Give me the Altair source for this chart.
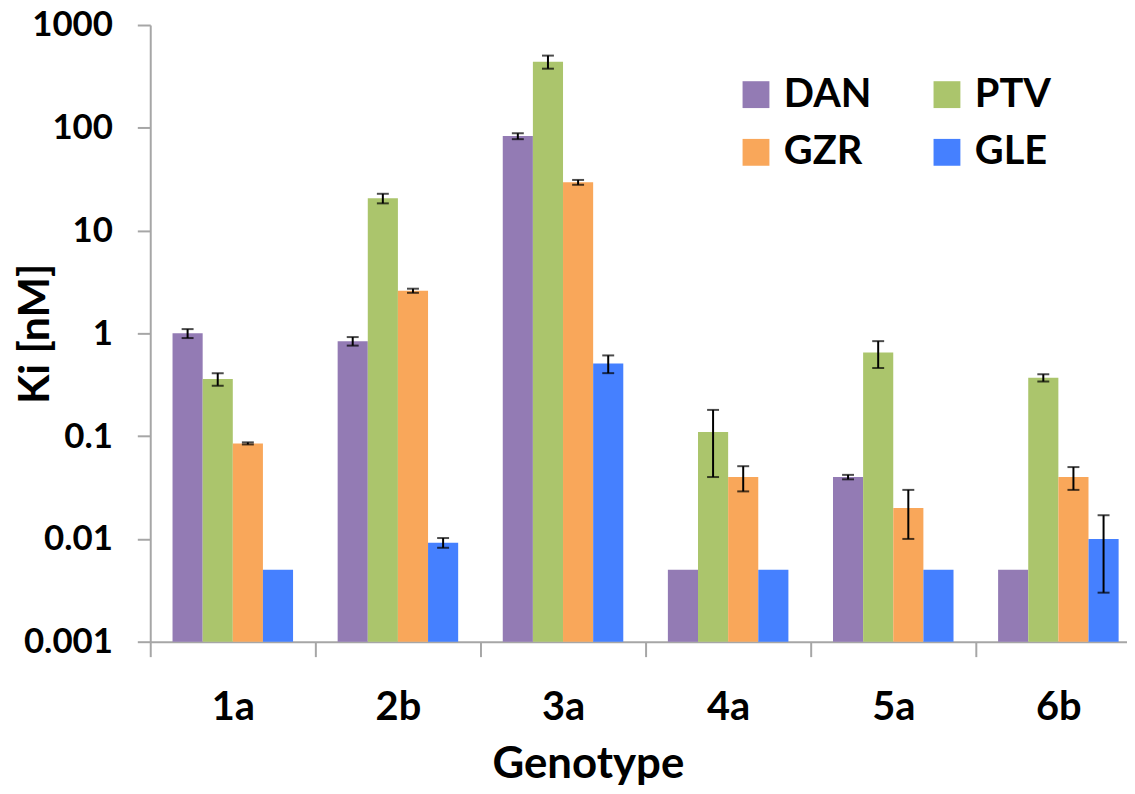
import altair as alt
import pandas as pd

genotypes = ["1a", "2b", "3a", "4a", "5a", "6b"]
drugs = ["DAN", "PTV", "GZR", "GLE"]
legend_order = ["DAN", "GZR", "PTV", "GLE"]
colors = ["#937BB4", "#ABC56C", "#F9A75A", "#4580FF"]

dan = [1.0, 0.84, 83, 0.005, 0.04, 0.005]
ptv = [0.36, 20.6, 440, 0.11, 0.65, 0.37]
gzr = [0.085, 2.6, 29.5, 0.04, 0.02, 0.04]
gle = [0.005, 0.0092, 0.51, 0.005, 0.005, 0.01]

dan_err = [0.1, 0.08, 5.5, None, 0.002, None]
ptv_err = [0.05, 2.2, 64, 0.07, 0.19, 0.03]
gzr_err = [0.002, 0.12, 1.6, 0.011, 0.01, 0.01]
gle_err = [None, 0.001, 0.1, None, None, 0.007]

y_ticks = [0.001, 0.01, 0.1, 1, 10, 100, 1000]

rows = []
for d, vals, errs in zip(drugs, [dan, ptv, gzr, gle], [dan_err, ptv_err, gzr_err, gle_err]):
    for g, v, e in zip(genotypes, vals, errs):
        rows.append({
            "Genotype": g, "Drug": d, "Ki": v,
            "lo": (v - e) if e is not None else None,
            "hi": (v + e) if e is not None else None,
        })
df = pd.DataFrame(rows)
err_df = df.dropna(subset=["lo", "hi"])

FONT = "Lato"
GRAY = "#a6a6a6"
W, H = 996, 620

x_enc = alt.X(
    "Genotype:N", sort=genotypes,
    scale=alt.Scale(paddingInner=0, paddingOuter=0),
    axis=alt.Axis(
        labelAngle=0, labelFont=FONT, labelFontSize=40, labelFontWeight="bold",
        labelColor="black", labelPadding=31, tickBand="extent", tickSize=15,
        tickColor=GRAY, tickWidth=2, domainColor=GRAY, domainWidth=2,
        title="Genotype", titleFont=FONT, titleFontSize=44, titleFontWeight="bold",
        titleColor="black", titleX=440, titleY=137, titleBaseline="alphabetic",
        titleAlign="center", grid=False,
    ),
)
xo_enc = alt.XOffset("Drug:N", sort=drugs, scale=alt.Scale(paddingInner=0, paddingOuter=0.74))
y_scale = alt.Scale(type="log", domain=[0.001, 1000], nice=False)

bars = alt.Chart(df).mark_bar().encode(
    x=x_enc,
    xOffset=xo_enc,
    y=alt.Y(
        "Ki:Q", scale=y_scale,
        axis=alt.Axis(
            values=y_ticks, format="~g", labelFont=FONT, labelFontSize=35,
            labelFontWeight="bold", labelColor="black", labelPadding=25,
            tickSize=13, tickColor=GRAY, tickWidth=2, domainColor=GRAY,
            domainWidth=2, grid=False,
            title="Ki [nM]", titleFont=FONT, titleFontSize=43, titleFontWeight="bold",
            titleColor="black", titleX=-115, titleY=H / 2, titleAngle=-90,
            titleAlign="center", titleBaseline="middle",
        ),
    ),
    y2=alt.datum(0.001),
    color=alt.Color(
        "Drug:N", sort=drugs, scale=alt.Scale(domain=drugs, range=colors),
        legend=alt.Legend(
            title=None, orient="none", legendX=589, legendY=50, columns=2,
            values=legend_order,
            symbolType="square", symbolSize=729, symbolStrokeWidth=0,
            symbolOpacity=1, labelFont=FONT, labelFontSize=40,
            labelFontWeight="bold", labelColor="black", labelOffset=8,
            columnPadding=55, rowPadding=18, padding=0,
        ),
    ),
)

err_rule = alt.Chart(err_df).mark_rule(color="black", strokeWidth=2).encode(
    x=alt.X("Genotype:N", sort=genotypes),
    xOffset=alt.XOffset("Drug:N", sort=drugs),
    y=alt.Y("lo:Q", scale=y_scale),
    y2="hi:Q",
)
cap_lo = alt.Chart(err_df).mark_tick(color="black", thickness=2, size=12).encode(
    x=alt.X("Genotype:N", sort=genotypes),
    xOffset=alt.XOffset("Drug:N", sort=drugs),
    y=alt.Y("lo:Q", scale=y_scale),
)
cap_hi = alt.Chart(err_df).mark_tick(color="black", thickness=2, size=12).encode(
    x=alt.X("Genotype:N", sort=genotypes),
    xOffset=alt.XOffset("Drug:N", sort=drugs),
    y=alt.Y("hi:Q", scale=y_scale),
)

chart = alt.layer(bars, err_rule, cap_lo, cap_hi).properties(
    width=W, height=H,
    autosize=alt.AutoSizeParams(type="none"),
    padding={"left": 143, "top": 15, "right": -14, "bottom": 150},
).configure_view(stroke=None)

chart.save("out.html", embed_options={"renderer": "svg", "actions": False})
